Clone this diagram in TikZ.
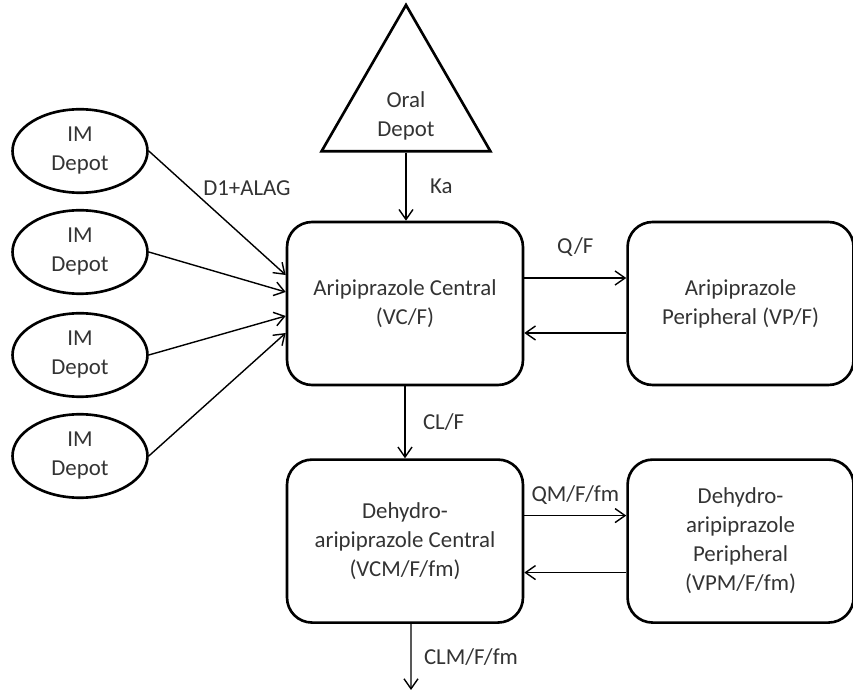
\documentclass[tikz,border=0pt]{standalone}
\usepackage{fontspec}
\setmainfont{Carlito}
\usepackage{tikz}
\usetikzlibrary{shapes.geometric, arrows.meta, positioning}

\begin{document}
\begin{tikzpicture}[
    x=0.02cm, y=-0.02cm,
    comp/.style={draw, line width=1.5pt, rounded corners=0.5cm, minimum width=4.72cm,
                 minimum height=3.26cm, align=center, font=\fontsize{13}{16.5}\selectfont,
                 text=black!80},
    depot/.style={draw, ellipse, line width=1.5pt, minimum width=2.7cm,
                  minimum height=1.64cm, align=center, font=\fontsize{13}{16.5}\selectfont,
                  text=black!80},
    flow/.style={-{Straight Barb[length=2mm, width=2.8mm]}, line width=0.8pt},
    rate/.style={font=\fontsize{13}{16.5}\selectfont, text=black!80}
]
    \useasboundingbox (0,0) rectangle (853,692);
    % oral depot
    \node[draw, regular polygon, regular polygon sides=3, minimum size=3.9cm,
          line width=1.5pt] (oral) at (406,102.5) {};
    \node[rate, align=center] (oraltxt) at (406,116) {Oral\\Depot};
    % compartments
    \node[comp] (central) at (405,303.5) {Aripiprazole Central\\(VC/F)};
    \node[comp, minimum width=4.52cm, right=2.04cm of central] (periph) {Aripiprazole\\Peripheral (VP/F)};
    \node[comp, below=1.44cm of central] (mcentral) {Dehydro-\\aripiprazole Central\\(VCM/F/fm)};
    \node[comp, minimum width=4.52cm, right=2.04cm of mcentral] (mperiph) {Dehydro-\\aripiprazole\\Peripheral\\(VPM/F/fm)};
    % IM depots
    \node[depot] (im1) at (80,151) {IM\\Depot};
    \node[depot] (im2) at (80,252) {IM\\Depot};
    \node[depot] (im3) at (80,355) {IM\\Depot};
    \node[depot] (im4) at (80,456) {IM\\Depot};
    \node[rate] (dlag) at (247,188) {D1+ALAG};
    % connectors
    \draw[flow] (im1.east) -- ([yshift=0.57cm]central.west);
    \draw[flow] (im2.east) -- ([yshift=0.23cm]central.west);
    \draw[flow] (im3.east) -- ([yshift=-0.25cm]central.west);
    \draw[flow] (im4.east) -- ([yshift=-0.59cm]central.west);
    \draw[flow] (oral.south) -- node[rate, right=0.35cm] (ka) {Ka} (oral.south |- central.north);
    \draw[flow] ([yshift=0.51cm]central.east) -- node[rate, above=0.29cm] (qf) {Q/F} ([yshift=0.51cm]periph.west);
    \draw[flow] ([yshift=-0.59cm]periph.west) -- ([yshift=-0.59cm]central.east);
    \draw[flow] (central.south) -- node[rate, right=0.23cm] (clf) {CL/F} (mcentral.north);
    \draw[flow] ([yshift=0.51cm]mcentral.east) -- node[rate, above=0.1cm] (qm) {QM/F/fm} ([yshift=0.51cm]mperiph.west);
    \draw[flow] ([yshift=-0.63cm]mperiph.west) -- ([yshift=-0.63cm]mcentral.east);
    \coordinate (elim) at (411,690);
    \draw[flow] ([xshift=0.12cm]mcentral.south) -- node[rate, right=0.13cm] (clm) {CLM/F/fm} (elim);
\end{tikzpicture}
\end{document}
